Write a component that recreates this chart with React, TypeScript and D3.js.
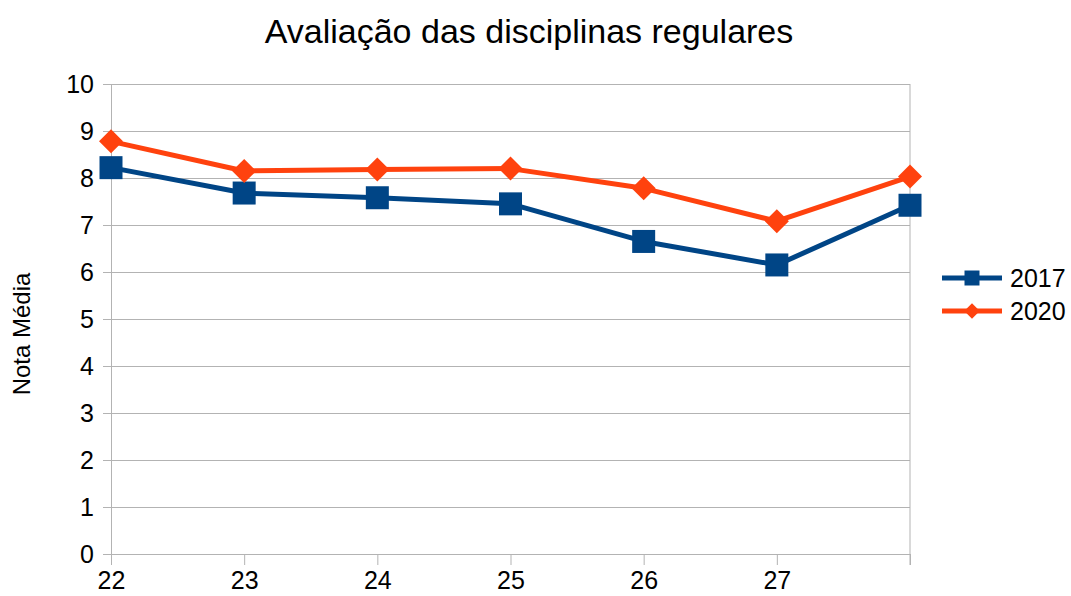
import * as d3 from "d3";
import React, { useEffect, useRef } from "react";

const categories = ["22", "23", "24", "25", "26", "27", ""];
const series2017 = [8.22, 7.68, 7.58, 7.45, 6.65, 6.15, 7.42];
const series2020 = [8.78, 8.15, 8.18, 8.2, 7.78, 7.08, 8.03];
const yTicks = [0, 1, 2, 3, 4, 5, 6, 7, 8, 9, 10];
const seriesNames = ["2017", "2020"];

export default function App() {
  const ref = useRef<SVGSVGElement>(null);

  useEffect(() => {
    const width = 1071;
    const height = 596;
    const svg = d3.select(ref.current);
    svg.selectAll("*").remove();

    const margin = { top: 84, right: 161, bottom: 42, left: 111 };
    const font = "Liberation Sans, Arial, sans-serif";
    const grid = "#b3b3b3";
    const colors = ["#004586", "#ff420e"];

    const xScale = d3
      .scalePoint<number>()
      .domain(d3.range(categories.length))
      .range([margin.left, width - margin.right]);
    const yScale = d3.scaleLinear().domain([0, 10]).range([height - margin.bottom, margin.top]);

    svg.append("rect").attr("width", width).attr("height", height).attr("fill", "#fff");

    // titulo
    svg
      .append("text")
      .attr("x", 529)
      .attr("y", 43)
      .attr("text-anchor", "middle")
      .style("font-family", font)
      .style("font-size", "34px")
      .text("Avaliação das disciplinas regulares");

    // eixo y com grade
    const yAxis = d3
      .axisLeft(yScale)
      .tickValues(yTicks)
      .tickSize(8)
      .tickPadding(9);
    svg
      .append("g")
      .attr("transform", `translate(${margin.left},0)`)
      .call(yAxis)
      .call((g) => g.select(".domain").attr("stroke", grid))
      .call((g) => g.selectAll(".tick line").attr("stroke", grid))
      .call((g) =>
        g
          .selectAll(".tick")
          .append("line")
          .attr("x1", 0)
          .attr("x2", width - margin.left - margin.right)
          .attr("stroke", grid)
      )
      .call((g) =>
        g
          .selectAll(".tick text")
          .attr("fill", "#000")
          .style("font-family", font)
          .style("font-size", "25px")
      );

    // borda direita
    svg
      .append("line")
      .attr("x1", width - margin.right)
      .attr("x2", width - margin.right)
      .attr("y1", margin.top)
      .attr("y2", height - margin.bottom + 11)
      .attr("stroke", grid);

    // eixo x
    const xAxis = d3
      .axisBottom(xScale)
      .tickFormat((i) => categories[i as number])
      .tickSize(11)
      .tickPadding(6);
    svg
      .append("g")
      .attr("transform", `translate(0,${height - margin.bottom})`)
      .call(xAxis)
      .call((g) => g.select(".domain").attr("stroke", grid))
      .call((g) => g.selectAll(".tick line").attr("stroke", grid))
      .call((g) =>
        g
          .selectAll(".tick text")
          .attr("fill", "#000")
          .style("font-family", font)
          .style("font-size", "25px")
      );

    // rótulo do eixo y
    svg
      .append("text")
      .attr("transform", `translate(30,334) rotate(-90)`)
      .attr("text-anchor", "middle")
      .style("font-family", font)
      .style("font-size", "24px")
      .text("Nota Média");

    const line = d3
      .line<number>()
      .x((_, i) => xScale(i) as number)
      .y((d) => yScale(d));

    const allSeries = [series2017, series2020];
    const squareSym = d3.symbol().type(d3.symbolSquare).size(23 * 23);
    const diamondSym = d3.symbol().type(d3.symbolSquare).size(17 * 17);

    allSeries.forEach((s, k) => {
      svg
        .append("path")
        .datum(s)
        .attr("d", line)
        .attr("fill", "none")
        .attr("stroke", colors[k])
        .attr("stroke-width", 5)
        .attr("stroke-linejoin", "round");
      svg
        .append("g")
        .selectAll("path")
        .data(s)
        .join("path")
        .attr(
          "transform",
          (d, i) => `translate(${xScale(i)},${yScale(d)})` + (k === 1 ? " rotate(45)" : "")
        )
        .attr("d", k === 0 ? squareSym() : diamondSym())
        .attr("fill", colors[k]);
    });

    // legenda
    const legend = svg.append("g");
    seriesNames.forEach((name, k) => {
      const y = 278 + k * 33;
      legend
        .append("line")
        .attr("x1", 942)
        .attr("x2", 1002)
        .attr("y1", y)
        .attr("y2", y)
        .attr("stroke", colors[k])
        .attr("stroke-width", 5);
      legend
        .append("path")
        .attr("transform", `translate(972,${y})` + (k === 1 ? " rotate(45)" : ""))
        .attr("d", d3.symbol().type(d3.symbolSquare).size(k === 0 ? 15 * 15 : 11 * 11)())
        .attr("fill", colors[k]);
      legend
        .append("text")
        .attr("x", 1010)
        .attr("y", y + 9)
        .style("font-family", font)
        .style("font-size", "25px")
        .text(name);
    });
  }, []);

  return (
    <svg
      ref={ref}
      width={1071}
      height={596}
      style={{ position: "absolute", left: 0, top: 0 }}
    ></svg>
  );
}
